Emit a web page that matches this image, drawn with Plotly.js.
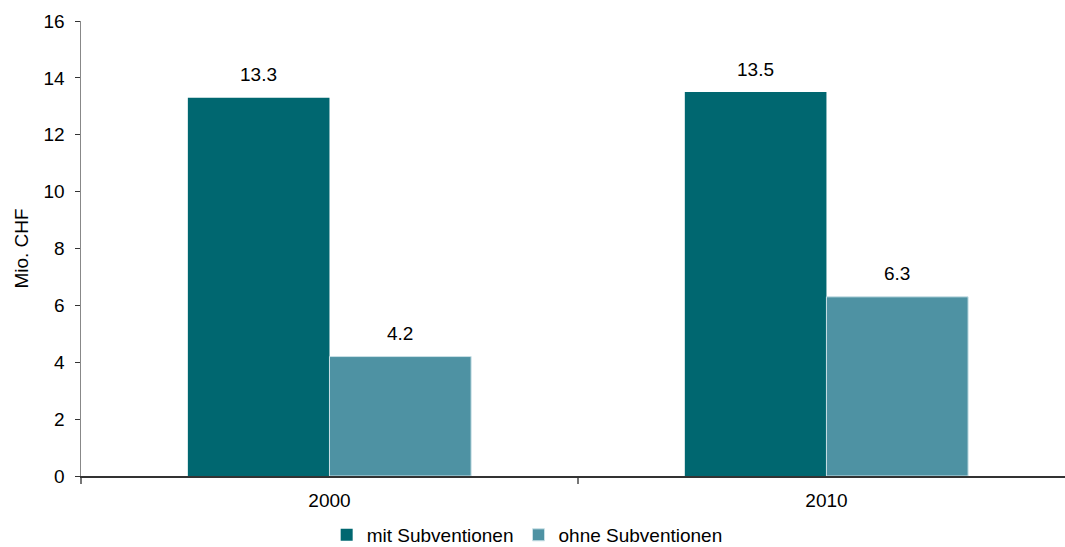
<!DOCTYPE html>
<html>
<head>
<meta charset="utf-8">
<script src="https://cdn.plot.ly/plotly-3.0.1.min.js"></script>
<style>html,body{margin:0;padding:0;background:#fff}#chart{width:1065px;height:547px}</style>
</head>
<body>
<div id="chart"></div>
<script>
const years = ['2000', '2010'];
const mitSubventionen = [13.3, 13.5];
const ohneSubventionen = [4.2, 6.3];
const seriesNames = ['mit Subventionen', 'ohne Subventionen'];
const yTicks = [0, 2, 4, 6, 8, 10, 12, 14, 16];

const mkFont = () => ({family: 'Liberation Sans, Arial, sans-serif', size: 19, color: '#000'});

const traces = [
  {type: 'bar', name: seriesNames[0], x: years, y: mitSubventionen,
   marker: {color: '#006770', line: {color: '#006770', width: 0}}},
  {type: 'bar', name: seriesNames[1], x: years, y: ohneSubventionen,
   marker: {color: '#4E92A3', line: {color: '#c9e0e6', width: 1}}}
];

// value labels placed at the data values, nudged to sit over each bar of the group
const halfBar = 71;
const annotations = [];
years.forEach((yr, i) => {
  annotations.push({x: i, y: mitSubventionen[i], xref: 'x', yref: 'y', text: mitSubventionen[i].toFixed(1),
    showarrow: false, xshift: -halfBar, yshift: 23, xanchor: 'center', yanchor: 'middle', font: mkFont()});
  annotations.push({x: i, y: ohneSubventionen[i], xref: 'x', yref: 'y', text: ohneSubventionen[i].toFixed(1),
    showarrow: false, xshift: halfBar, yshift: 23, xanchor: 'center', yanchor: 'middle', font: mkFont()});
});

const layout = {
  width: 1065, height: 547,
  margin: {l: 81, r: 0, t: 21, b: 71},
  paper_bgcolor: '#fff', plot_bgcolor: '#fff',
  font: mkFont(),
  barmode: 'group', bargap: 0.43, bargroupgap: 0,
  showlegend: true,
  legend: {orientation: 'h', xref: 'container', yref: 'container', x: 0.495, xanchor: 'center',
           y: 0.022, yanchor: 'middle', font: mkFont(), itemwidth: 30, tracegroupgap: 0},
  annotations: annotations,
  xaxis: {type: 'category', range: [-0.5, 1.48], showgrid: false, zeroline: false,
          showline: true, linecolor: '#333', linewidth: 1.5,
          ticks: 'outside', tickson: 'boundaries', ticklen: 6, tickcolor: '#777', tickwidth: 1.5,
          tickfont: mkFont(), ticklabelstandoff: 7},
  yaxis: {range: [0, 16], tickvals: yTicks, showgrid: false, zeroline: false,
          showline: true, linecolor: '#888', linewidth: 1.5,
          ticks: 'outside', ticklen: 5, tickcolor: '#333', tickwidth: 1,
          tickfont: mkFont(), ticklabelstandoff: 6,
          title: {text: 'Mio. CHF', font: mkFont(), standoff: 10}}
};

Plotly.newPlot('chart', traces, layout, {displayModeBar: false, staticPlot: true});
</script>
</body>
</html>
